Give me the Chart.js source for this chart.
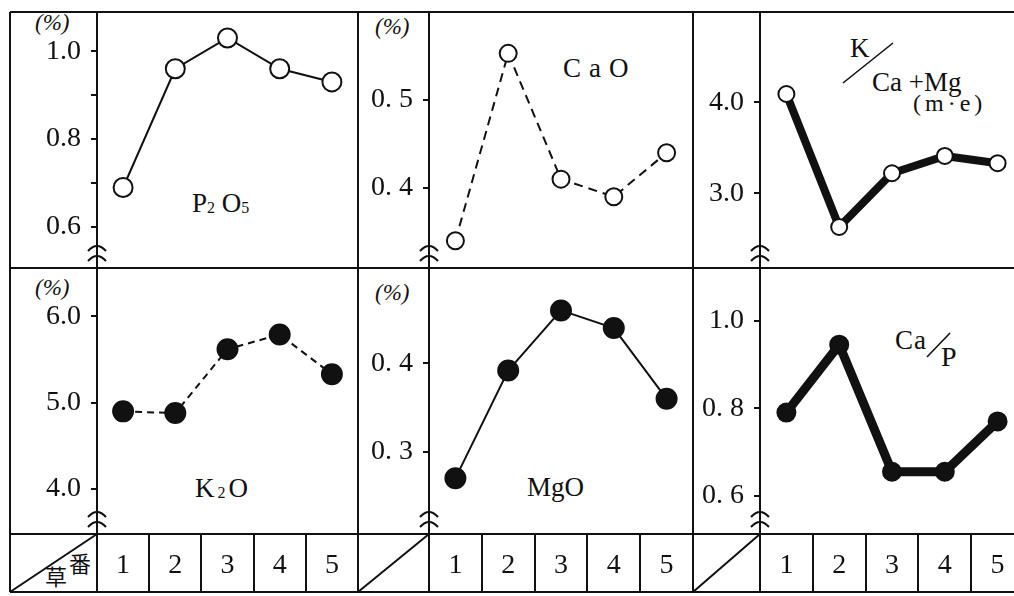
<!DOCTYPE html>
<html>
<head>
<meta charset="utf-8">
<script src="https://cdn.jsdelivr.net/npm/chart.js@4.4.0/dist/chart.umd.min.js"></script>
<style>
  html, body { margin: 0; padding: 0; background: #fff; overflow: hidden; width: 1014px; height: 596px; }
  #stage { position: relative; width: 1014px; height: 596px; overflow: hidden; }
  #stage canvas { position: absolute; }
  #frame { position: absolute; left: 0; top: 0; }
  .lbl { position: absolute; font-family: "Liberation Serif", serif; color: #111; white-space: nowrap; line-height: 1; font-size: 27px; }
  .pct { font-size: 23px; font-style: italic; }
  .cjk { font-family: "Noto Sans CJK JP", sans-serif; font-size: 22px; }
  sub { font-size: 16px; vertical-align: baseline; position: relative; top: 1px; }
</style>
</head>
<body>
<div id="stage">
  <svg id="frame" width="1014" height="596">
    <g stroke="#111" stroke-width="2" fill="none">
      <path d="M10 12 H1014 M10 268 H1014 M10 534 H1014 M10 592 H1014" />
      <path d="M10 12 V592 M358 12 V592 M693 12 V592" />
      <!-- header cell diagonals -->
      <path d="M10 592 L97 534 M358 592 L429 534 M693 592 L760 534" />
      <!-- slashes in the ratio titles -->
      <path d="M843 83 L893 43 M927 357 L950 333" stroke-width="1.6" />
    </g>
  </svg>

  <!-- panel titles and units -->
  <div class="lbl pct" style="left:35px;top:11px">(%)</div>
  <div class="lbl pct" style="left:375px;top:15px">(%)</div>
  <div class="lbl pct" style="left:35px;top:276px">(%)</div>
  <div class="lbl pct" style="left:375px;top:281px">(%)</div>

  <div class="lbl" style="left:192px;top:190px">P<sub>2</sub> O<sub>5</sub></div>
  <div class="lbl" style="left:563px;top:55px;letter-spacing:8px">CaO</div>
  <div class="lbl" style="left:850px;top:35px">K</div>
  <div class="lbl" style="left:872px;top:69px">Ca +Mg</div>
  <div class="lbl" style="left:913px;top:91px;font-size:24px;letter-spacing:4px">(m·e)</div>
  <div class="lbl" style="left:895px;top:327px;letter-spacing:1px">Ca</div>
  <div class="lbl" style="left:941px;top:343px;font-size:28px">P</div>
  <div class="lbl" style="left:195px;top:475px;letter-spacing:3px">K<sub>2</sub>O</div>
  <div class="lbl" style="left:527px;top:474px">MgO</div>

  <div class="lbl cjk" style="left:69px;top:551px">番</div>
  <div class="lbl cjk" style="left:45px;top:564px">草</div>
</div>

<script>
/**
 * Six small line panels (cutting number 1-5) drawn with Chart.js
 */

const ink = "#111";
const serif = "'Liberation Serif', serif";

// Cutting number (x categories, shared)
const categories = ["1", "2", "3", "4", "5"];

// P2O5 (%)
const p2o5Values = [0.69, 0.96, 1.03, 0.96, 0.93];
const p2o5Ticks = [0.6, 0.7, 0.8, 0.9, 1.0];
const p2o5TickLabels = ["0.6", "", "0.8", "", "1.0"];

// CaO (%)
const caoValues = [0.34, 0.553, 0.41, 0.39, 0.44];
const caoTicks = [0.4, 0.5];
const caoTickLabels = ["0. 4", "0. 5"];

// K / (Ca + Mg)  (m.e)
const kCaMgValues = [4.09, 2.63, 3.22, 3.41, 3.33];
const kCaMgTicks = [3.0, 4.0];
const kCaMgTickLabels = ["3.0", "4.0"];

// K2O (%)
const k2oValues = [4.9, 4.88, 5.62, 5.79, 5.33];
const k2oTicks = [4.0, 5.0, 6.0];
const k2oTickLabels = ["4.0", "5.0", "6.0"];

// MgO (%)
const mgoValues = [0.27, 0.392, 0.46, 0.44, 0.36];
const mgoTicks = [0.3, 0.4];
const mgoTickLabels = ["0. 3", "0. 4"];

// Ca / P
const caPValues = [0.79, 0.945, 0.655, 0.655, 0.77];
const caPTicks = [0.6, 0.8, 1.0];
const caPTickLabels = ["0. 6", "0. 8", "1.0"];

// Panel layout: left edge, y-axis x, right edge, top, bottom of plot
const panels = [
  { left: 10, axisX: 97, right: 358, top: 12, bottom: 268, table: false,
    values: p2o5Values, ticks: p2o5Ticks, labels: p2o5TickLabels, range: [0.507, 1.089],
    marker: "open", lineWidth: 2, dash: [], radius: 9.5 },
  { left: 358, axisX: 429, right: 693, top: 12, bottom: 268, table: false,
    values: caoValues, ticks: caoTicks, labels: caoTickLabels, range: [0.309, 0.6],
    marker: "open", lineWidth: 2, dash: [9, 6], radius: 8.5 },
  { left: 693, axisX: 760, right: 1024, top: 12, bottom: 268, table: false,
    values: kCaMgValues, ticks: kCaMgTicks, labels: kCaMgTickLabels, range: [2.18, 4.99],
    marker: "open", lineWidth: 8, dash: [], radius: 8 },
  { left: 10, axisX: 97, right: 358, top: 268, bottom: 534, table: true,
    values: k2oValues, ticks: k2oTicks, labels: k2oTickLabels, range: [3.48, 6.56],
    marker: "filled", lineWidth: 2, dash: [7, 5], radius: 10 },
  { left: 358, axisX: 429, right: 693, top: 268, bottom: 534, table: true,
    values: mgoValues, ticks: mgoTicks, labels: mgoTickLabels, range: [0.207, 0.508],
    marker: "filled", lineWidth: 2, dash: [], radius: 10 },
  { left: 693, axisX: 760, right: 1024, top: 268, bottom: 534, table: true,
    values: caPValues, ticks: caPTicks, labels: caPTickLabels, range: [0.513, 1.12],
    marker: "filled", lineWidth: 9, dash: [], radius: 9 },
];

const TABLE_H = 58;

// Axis break sign (two little arcs at the foot of the y axis)
const breakMark = {
  id: "breakMark",
  afterDraw(chart) {
    const { ctx, chartArea } = chart;
    const x = chartArea.left;
    ctx.save();
    ctx.strokeStyle = ink;
    ctx.lineWidth = 2;
    [22, 12].forEach((off) => {
      const y = chartArea.bottom - off;
      ctx.beginPath();
      ctx.moveTo(x - 9, y + 5);
      ctx.quadraticCurveTo(x, y - 5, x + 9, y + 5);
      ctx.stroke();
    });
    ctx.restore();
  },
};

function makePanel(p) {
  const canvas = document.createElement("canvas");
  canvas.width = p.right - p.left;
  canvas.height = p.bottom - p.top + (p.table ? TABLE_H : 0);
  canvas.style.left = p.left + "px";
  canvas.style.top = p.top + "px";
  document.getElementById("stage").appendChild(canvas);

  const thick = p.lineWidth > 4;

  const xScale = p.table
    ? {
        offset: true,
        afterFit: (s) => {
          s.height = TABLE_H;
          s.paddingLeft = 0;
          s.paddingRight = 0;
        },
        grid: { offset: true, drawOnChartArea: false, tickLength: TABLE_H, color: ink, lineWidth: 2 },
        border: { display: true, color: ink, width: 2 },
        ticks: { color: ink, font: { family: serif, size: 28 }, padding: -43, maxRotation: 0, autoSkip: false },
      }
    : { display: false, offset: true };

  return new Chart(canvas, {
    type: "line",
    data: {
      labels: categories,
      datasets: [
        {
          data: p.values,
          borderColor: ink,
          borderWidth: p.lineWidth,
          borderDash: p.dash,
          borderJoinStyle: thick ? "round" : "miter",
          borderCapStyle: thick ? "round" : "butt",
          tension: 0,
          pointRadius: p.radius,
          pointBorderWidth: 2,
          pointBorderColor: ink,
          pointBackgroundColor: p.marker === "filled" ? ink : "#fff",
          clip: false,
        },
      ],
    },
    options: {
      responsive: false,
      animation: false,
      devicePixelRatio: 1,
      layout: { padding: 0, autoPadding: false },
      events: [],
      plugins: { legend: { display: false }, tooltip: { enabled: false } },
      scales: {
        x: xScale,
        y: {
          type: "linear",
          min: p.range[0],
          max: p.range[1],
          afterBuildTicks: (s) => {
            s.ticks = p.ticks.map((v) => ({ value: v }));
          },
          afterFit: (s) => {
            s.width = p.axisX - p.left;
            s.paddingTop = 0;
            s.paddingBottom = 0;
          },
          grid: { drawOnChartArea: false, tickLength: 6, color: ink, lineWidth: 2 },
          border: { display: true, color: ink, width: 2 },
          ticks: {
            color: ink,
            font: { family: serif, size: 28 },
            padding: 10,
            callback: (v, i) => p.labels[i],
          },
        },
      },
    },
    plugins: [breakMark],
  });
}

panels.forEach(makePanel);
</script>
</body>
</html>
